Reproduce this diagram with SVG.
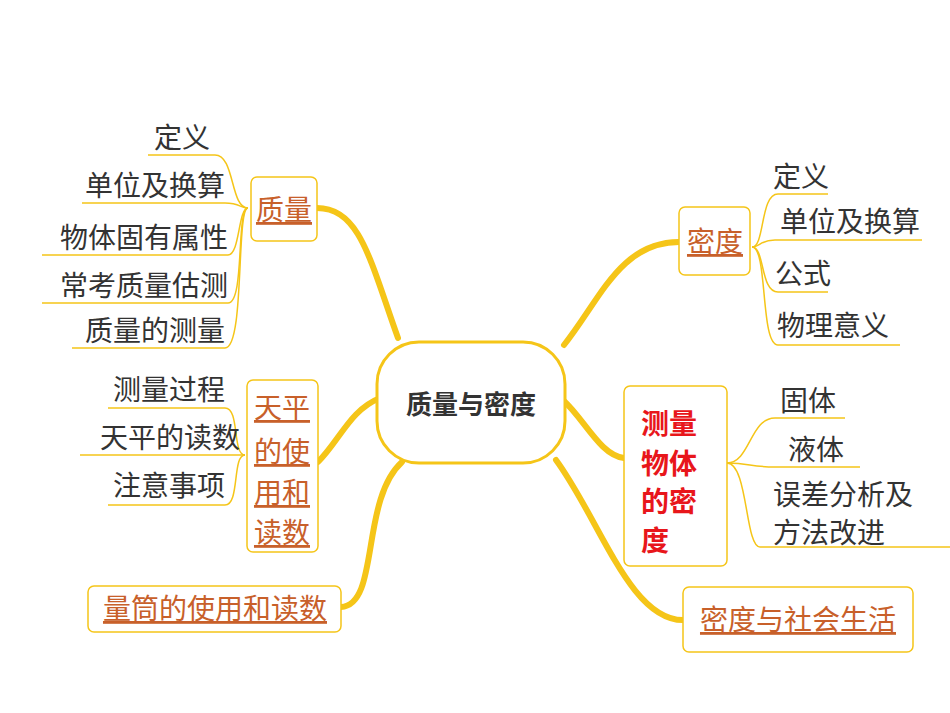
<svg xmlns="http://www.w3.org/2000/svg" width="950" height="713" viewBox="0 0 950 713">
<style>
.box{fill:#fff;stroke:#F5C518;stroke-width:1.5}
.leaf{font-family:"Noto Sans CJK SC",sans-serif;font-size:28px;fill:#333}
.cat{font-family:"Noto Sans CJK SC",sans-serif;font-size:28px;fill:#C8602A;text-decoration:underline}
.thin{fill:none;stroke:#F5C518;stroke-width:1.5}
.thick{fill:none;stroke:#F5C518;stroke-width:6;stroke-linecap:round}
</style>
<rect width="950" height="713" fill="#fff"/>
<g id="connectors">
<path class="thick" d="M317,208 C360,208 370,260 398,338"/>
<path class="thick" d="M380,398 C350,410 340,440 318,462"/>
<path class="thick" d="M402,462 C360,500 380,605 341,607"/>
<path class="thick" d="M564,345 C600,300 620,242 679,242"/>
<path class="thick" d="M563,400 C585,420 600,455 624,458"/>
<path class="thick" d="M556,460 C600,520 630,620 683,620"/>
<path class="thin" d="M148,155 H215 C235,155 230,208 248,208"/>
<path class="thin" d="M82,203 H225 C240,203 240,208 248,208"/>
<path class="thin" d="M42,255 H228 C240,255 238,208 248,208"/>
<path class="thin" d="M42,303 H228 C245,303 236,208 248,208"/>
<path class="thin" d="M72,348 H225 C245,348 236,208 248,208"/>
<path class="thin" d="M108,408 H225 C240,408 232,455 245,455"/>
<path class="thin" d="M80,455 H245"/>
<path class="thin" d="M108,505 H225 C240,505 232,455 245,455"/>
<path class="thin" d="M828,194 H778 C760,194 765,247 752,247"/>
<path class="thin" d="M922,240 H775 C760,240 760,247 752,247"/>
<path class="thin" d="M828,292 H778 C760,292 765,247 752,247"/>
<path class="thin" d="M900,345 H778 C760,345 768,247 752,247"/>
<path class="thin" d="M845,418 H775 C750,418 750,463 727,463"/>
<path class="thin" d="M860,467 H775 C750,467 750,463 727,463"/>
<path class="thin" d="M950,547 H760 C745,547 748,463 727,463"/>
</g>
<g id="center"><rect x="377" y="342" width="188" height="121" rx="42" fill="#fff" stroke="#F5C518" stroke-width="3"/>
<text x="471" y="414" text-anchor="middle" font-family="Noto Sans CJK SC,sans-serif" font-size="26" font-weight="bold" fill="#333">质量与密度</text></g>
<g id="zhiliang"><rect class="box" x="251" y="177" width="66" height="64" rx="6"/><text class="cat" x="284" y="220" text-anchor="middle">质量</text></g>
<g id="zl-leaves">
<text class="leaf" x="210" y="148" text-anchor="end">定义</text>
<text class="leaf" x="225" y="196" text-anchor="end">单位及换算</text>
<text class="leaf" x="228" y="248" text-anchor="end">物体固有属性</text>
<text class="leaf" x="228" y="296" text-anchor="end">常考质量估测</text>
<text class="leaf" x="225" y="341" text-anchor="end">质量的测量</text>
</g>
<g id="tianping"><rect class="box" x="247" y="380" width="71" height="172" rx="6"/>
<text class="cat" x="282" y="418" text-anchor="middle">天平</text>
<text class="cat" x="282" y="462" text-anchor="middle">的使</text>
<text class="cat" x="282" y="503" text-anchor="middle">用和</text>
<text class="cat" x="282" y="543" text-anchor="middle">读数</text></g>
<g id="tp-leaves">
<text class="leaf" x="225" y="400" text-anchor="end">测量过程</text>
<text class="leaf" x="240" y="448" text-anchor="end">天平的读数</text>
<text class="leaf" x="225" y="496" text-anchor="end">注意事项</text>
</g>
<g id="liangtong"><rect class="box" x="88" y="586" width="253" height="46" rx="6"/><text class="cat" x="215" y="619" text-anchor="middle">量筒的使用和读数</text></g>
<g id="midu"><rect class="box" x="679" y="207" width="71" height="68" rx="6"/><text class="cat" x="715" y="252" text-anchor="middle">密度</text></g>
<g id="md-leaves">
<text class="leaf" x="773" y="187">定义</text>
<text class="leaf" x="780" y="232">单位及换算</text>
<text class="leaf" x="775" y="284">公式</text>
<text class="leaf" x="777" y="336">物理意义</text>
</g>
<g id="celiang"><rect class="box" x="624" y="386" width="103" height="180" rx="6"/>
<g font-family="Noto Sans CJK SC,sans-serif" font-size="28" font-weight="bold" fill="#E8161B">
<text x="641" y="434">测量</text><text x="641" y="474">物体</text><text x="641" y="512">的密</text><text x="641" y="551">度</text></g></g>
<g id="cl-leaves">
<text class="leaf" x="780" y="411">固体</text>
<text class="leaf" x="788" y="460">液体</text>
<text class="leaf" x="773" y="505">误差分析及</text>
<text class="leaf" x="773" y="543">方法改进</text>
</g>
<g id="shehui"><rect class="box" x="683" y="587" width="230" height="65" rx="6"/><text class="cat" x="798" y="630" text-anchor="middle">密度与社会生活</text></g>
</svg>
